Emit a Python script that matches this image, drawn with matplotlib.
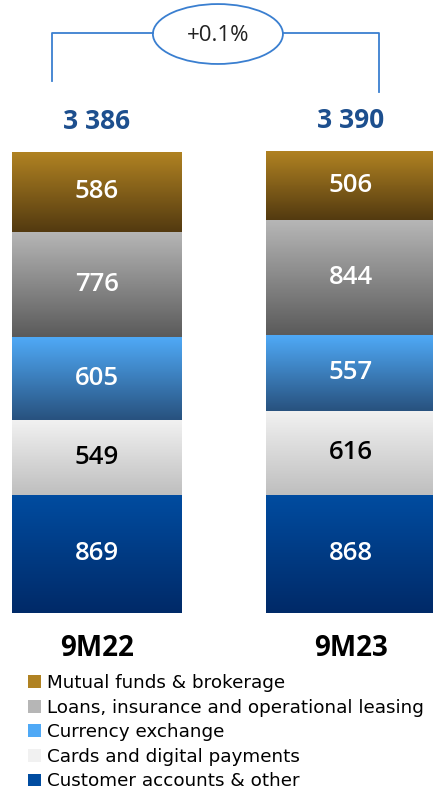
import numpy as np
import matplotlib.pyplot as plt
from matplotlib.colors import LinearSegmentedColormap
from matplotlib.patches import Ellipse, Patch

periods = ["9M22", "9M23"]
categories = [
    "Customer accounts & other",
    "Cards and digital payments",
    "Currency exchange",
    "Loans, insurance and operational leasing",
    "Mutual funds & brokerage",
]
values_9m22 = [869, 549, 605, 776, 586]
values_9m23 = [868, 616, 557, 844, 506]
totals = [3386, 3390]
change_label = "+0.1%"

# (top colour, bottom colour) of each segment's gradient
gradients = [
    ("#004ca0", "#002a68"),
    ("#f1f1f1", "#bfbfbf"),
    ("#4fa9f6", "#28527f"),
    ("#b6b6b6", "#5b5b5b"),
    ("#b08222", "#533a10"),
]
label_colors = ["white", "black", "white", "white", "white"]

plt.rcParams["font.family"] = ["Open Sans", "DejaVu Sans"]

fig = plt.figure(figsize=(4.33, 7.93), dpi=100)
# axes spans the full width; bottom sits at the base of the bars
ax = fig.add_axes([0, 180 / 793, 1, 613 / 793])
xlim = (-97 / 254, 336 / 254)
ylim = (0, 613 / 0.1362)

x = np.arange(len(periods))
width = 170 / 254
series = [values_9m22, values_9m23]

for xi, vals in zip(x, series):
    bottom = 0
    for i, v in enumerate(vals):
        top_c, bot_c = gradients[i]
        cmap = LinearSegmentedColormap.from_list("g", [bot_c, top_c])
        ax.bar(xi, v, width, bottom=bottom, color=bot_c, linewidth=0,
               zorder=1)
        grad = np.linspace(1, 0, 64).reshape(-1, 1)
        ax.imshow(grad, cmap=cmap, aspect="auto", interpolation="bicubic",
                  extent=(xi - width / 2, xi + width / 2, bottom, bottom + v),
                  zorder=2)
        ax.text(xi, bottom + v / 2, str(v), ha="center", va="center",
                color=label_colors[i], fontsize=18.5, fontweight="semibold",
                zorder=3)
        bottom += v

for xi, t in zip(x, totals):
    ax.annotate(f"{t:,}".replace(",", " "), (xi, t), xytext=(0, 22),
                textcoords="offset points", ha="center", va="center",
                color="#1d4f8e", fontsize=19, fontweight="bold")

# bracket with the change badge
line_c = "#3a7fd0"
yb = 4258
ax.plot([-0.177, -0.177, 0.22], [3907, yb, yb], color=line_c, lw=1.3,
        clip_on=False)
ax.plot([0.732, 1.110, 1.110], [yb, yb, 3825], color=line_c, lw=1.3,
        clip_on=False)
ax.add_patch(Ellipse((0.476, 4251), 0.512, 440, facecolor="white",
                     edgecolor=line_c, lw=1.3, clip_on=False))
ax.text(0.476, 4240, change_label, ha="center", va="center", fontsize=16,
        color="#222222")

ax.set_xlim(xlim)
ax.set_ylim(ylim)
ax.set_xticks(x, periods, fontsize=20, fontweight="bold")
ax.tick_params(axis="x", length=0, pad=15)
ax.set_yticks([])
for s in ax.spines.values():
    s.set_visible(False)

handles = [Patch(facecolor=gradients[i][0], edgecolor="none")
           for i in reversed(range(len(categories)))]
fig.legend(handles, list(reversed(categories)), loc="upper left",
           bbox_to_anchor=(28 / 433, 1 - 674 / 793), frameon=False,
           prop={"family": "DejaVu Sans", "size": 13.2},
           handlelength=0.7, handleheight=0.7, handletextpad=0.35,
           labelspacing=0.36, borderaxespad=0, borderpad=0)

fig.savefig("out.png", dpi=100)
